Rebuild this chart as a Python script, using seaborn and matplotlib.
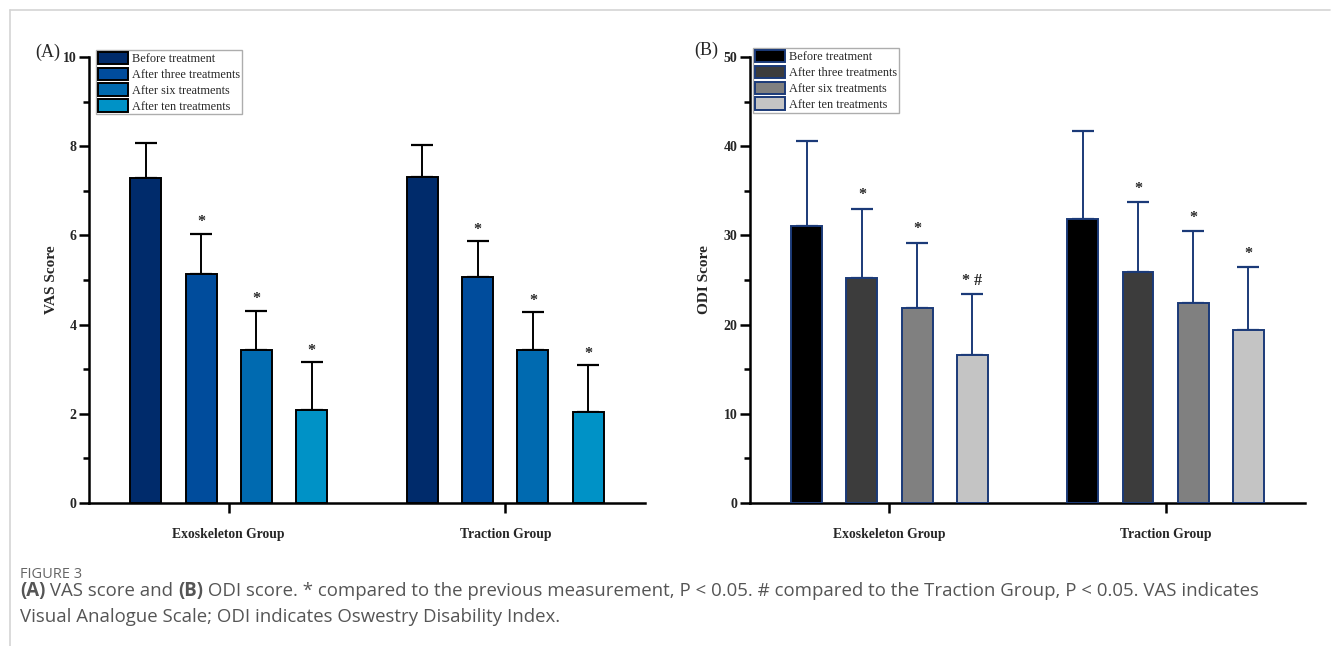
import numpy as np
import pandas as pd
import matplotlib
matplotlib.use("Agg")
import matplotlib.pyplot as plt
from matplotlib.lines import Line2D
from matplotlib.patches import Patch
from matplotlib.ticker import MultipleLocator
import seaborn as sns

# ---- data ----
groups = ["Exoskeleton Group", "Traction Group"]
times = ["Before treatment", "After three treatments",
         "After six treatments", "After ten treatments"]

vas_mean_exo = [7.29, 5.14, 3.44, 2.09]
vas_sd_exo = [0.78, 0.90, 0.87, 1.06]
vas_mean_tra = [7.31, 5.07, 3.44, 2.03]
vas_sd_tra = [0.72, 0.80, 0.84, 1.06]

odi_mean_exo = [31.0, 25.2, 21.9, 16.6]
odi_sd_exo = [9.6, 7.8, 7.3, 6.8]
odi_mean_tra = [31.8, 25.9, 22.4, 19.4]
odi_sd_tra = [9.9, 7.8, 8.1, 7.0]

# significance marks (per group, per time point)
vas_marks = [["", "*", "*", "*"], ["", "*", "*", "*"]]
odi_marks = [["", "*", "*", "* #"], ["", "*", "*", "*"]]

vas_colors = ["#002b6b", "#004c9c", "#006ab0", "#0092c6"]
odi_colors = ["#000000", "#3c3c3c", "#808080", "#c4c4c4"]


def make_df(m_exo, s_exo, m_tra, s_tra):
    rows = []
    for g, ms, ss in zip(groups, [m_exo, m_tra], [s_exo, s_tra]):
        for t, m, s in zip(times, ms, ss):
            rows.append({"group": g, "time": t, "mean": m, "sd": s})
    return pd.DataFrame(rows)


vas = make_df(vas_mean_exo, vas_sd_exo, vas_mean_tra, vas_sd_tra)
odi = make_df(odi_mean_exo, odi_sd_exo, odi_mean_tra, odi_sd_tra)

sns.set_theme(style="ticks")
plt.rcParams["font.family"] = ["Liberation Serif", "DejaVu Serif"]

fig = plt.figure(figsize=(13.31, 6.46), dpi=100)
axA = fig.add_axes([0.0669, 0.2214, 0.4177, 0.6904])
axB = fig.add_axes([0.5635, 0.2214, 0.4170, 0.6904])


def panel(ax, df, colors, edge, ecol, ymax, major, minor, ylabel, marks,
          star_off, leg_anchor):
    sns.barplot(data=df, x="group", y="mean", hue="time", order=groups,
                hue_order=times, palette=colors, saturation=1, gap=0.44,
                width=0.8, edgecolor=edge, linewidth=1.4, errorbar=None,
                legend=False, ax=ax, zorder=3)
    # error bars (upper half only), one per hue level
    bars = [p for p in ax.patches if p.get_height() > 0]
    for i, t in enumerate(times):
        sub = df[df["time"] == t].set_index("group").loc[groups]
        xs = [b.get_x() + b.get_width() / 2 for b in bars[i * 2:(i + 1) * 2]]
        ax.errorbar(xs, sub["mean"], yerr=[np.zeros(2), sub["sd"]], fmt="none",
                    ecolor=ecol, elinewidth=1.4, capsize=8, capthick=1.6,
                    zorder=2)
        for gi, x in enumerate(xs):
            mk = marks[gi][i]
            if mk:
                top = sub["mean"].iloc[gi] + sub["sd"].iloc[gi]
                ax.text(x, top + star_off, mk, ha="center", va="bottom",
                        fontsize=11.5, fontweight="bold")
    ax.set_ylim(0, ymax)
    ax.set_xlim(-0.505, 1.505)
    ax.yaxis.set_major_locator(MultipleLocator(major))
    ax.yaxis.set_minor_locator(MultipleLocator(minor))
    for s in ["top", "right"]:
        ax.spines[s].set_visible(False)
    for s in ["left", "bottom"]:
        ax.spines[s].set_linewidth(1.8)
        ax.spines[s].set_color("black")
    ax.tick_params(axis="y", which="major", length=7, width=1.8,
                   labelsize=10, pad=2, color="black")
    ax.tick_params(axis="y", which="minor", length=4, width=1.8,
                   color="black")
    ax.tick_params(axis="x", length=7, width=1.8, labelsize=9.8, pad=11,
                   color="black")
    for lab in ax.get_xticklabels() + ax.get_yticklabels():
        lab.set_fontweight("bold")
    ax.set_xlabel("")
    ax.set_ylabel(ylabel, fontsize=11, fontweight="bold")
    ax.yaxis.set_label_coords(leg_anchor[2], 0.5)
    handles = [Patch(facecolor=c, edgecolor=edge, linewidth=1.4) for c in colors]
    leg = ax.legend(handles, times, loc="upper left",
                    bbox_to_anchor=leg_anchor[:2], borderaxespad=0,
                    fontsize=8.8, frameon=True, fancybox=False,
                    handlelength=2.5, handleheight=1.2, labelspacing=0.2,
                    handletextpad=0.3, borderpad=0.15)
    leg.get_frame().set_edgecolor("#999999")
    leg.get_frame().set_linewidth(1.0)


panel(axA, vas, vas_colors, "black", "black", 10, 2, 1, "VAS Score",
      vas_marks, 0.08, (0.012, 1.016, -0.056))
panel(axB, odi, odi_colors, "#1b3a78", "#1b3a78", 50, 10, 5, "ODI Score",
      odi_marks, 0.6, (0.005, 1.02, -0.070))

fig.text(48 / 1331, 1 - 52 / 646, "(A)", fontsize=13, ha="center", va="center")
fig.text(706 / 1331, 1 - 50 / 646, "(B)", fontsize=13, ha="center", va="center")

# page frame lines
fig.add_artist(Line2D([9.5 / 1331, 1330 / 1331], [1 - 9.5 / 646] * 2,
                      color="#d4d4d4", lw=1.2))
fig.add_artist(Line2D([9.5 / 1331] * 2, [0, 1 - 9.5 / 646],
                      color="#d4d4d4", lw=1.2))

# caption, with bold panel letters written as separate pieces
cap_font = ["Open Sans", "DejaVu Sans"]
cap_size = 13.4
fig.text(20 / 1331, 1 - 575 / 646, "FIGURE 3", fontsize=10.5, color="#666666",
         family=cap_font, va="center")
renderer = fig.canvas.get_renderer()
pieces = [("(A)", "bold"), (" VAS score and ", "normal"), ("(B)", "bold"),
          (" ODI score. * compared to the previous measurement, P < 0.05. "
           "# compared to the Traction Group, P < 0.05. VAS indicates", "normal")]
x = 20
for txt, w in pieces:
    t = fig.text(x / 1331, 1 - 591 / 646, txt, fontsize=cap_size,
                 color="#555555", family=cap_font, fontweight=w, va="center")
    x += t.get_window_extent(renderer).width
fig.text(20 / 1331, 1 - 617 / 646,
         "Visual Analogue Scale; ODI indicates Oswestry Disability Index.",
         fontsize=cap_size, color="#555555", family=cap_font, va="center")

fig.savefig("out.png", dpi=100)
